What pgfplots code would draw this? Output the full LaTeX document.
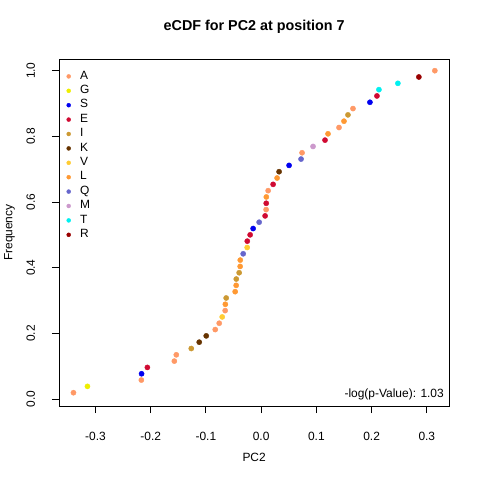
\documentclass[border=0pt]{standalone}
\usepackage{fontspec}
\setmainfont{Liberation Sans}
\usepackage{pgfplots}
\pgfplotsset{compat=1.18}
\definecolor{cA}{HTML}{FF9966}
\definecolor{cG}{HTML}{EEEE00}
\definecolor{cS}{HTML}{0000F0}
\definecolor{cE}{HTML}{D00A32}
\definecolor{cI}{HTML}{CC9933}
\definecolor{cK}{HTML}{663300}
\definecolor{cV}{HTML}{FFCC33}
\definecolor{cL}{HTML}{FF9933}
\definecolor{cQ}{HTML}{6666CC}
\definecolor{cM}{HTML}{CC99CC}
\definecolor{cT}{HTML}{00F0F0}
\definecolor{cR}{HTML}{990000}
\pgfplotsset{dot/.style={only marks, mark=*, mark size=2.6bp, color=#1, mark options={draw=none, fill=#1}}}
\begin{document}
\fontsize{12}{14.4}\selectfont
\begin{tikzpicture}
\useasboundingbox (0,0) rectangle (480bp,480bp);
\begin{axis}[
  at={(59bp,74bp)}, anchor=south west,
  scale only axis, width=390.3bp, height=346.7bp,
  xmin=-0.3660, xmax=0.3407, ymin=-0.0213, ymax=1.0347,
  axis line style={line width=1bp, black},
  every tick/.style={black, line width=1bp},
  tick align=outside, major tick length=7bp,
  tick pos=left,
  xtick={-0.3,-0.2,-0.1,0,0.1,0.2,0.3},
  xticklabels={-0.3,-0.2,-0.1,0.0,0.1,0.2,0.3},
  ytick={0,0.2,0.4,0.6,0.8,1},
  yticklabels={0.0,0.2,0.4,0.6,0.8,1.0},
  xticklabel style={anchor=base, inner sep=0pt},
  xticklabel shift=27bp,
  yticklabel style={rotate=90, anchor=base, inner sep=0pt},
  yticklabel shift=17bp,
  title={eCDF for PC2 at position 7},
  title style={at={([yshift=23.3bp]axis description cs:0.5,1)}, anchor=base, font=\fontsize{14.4}{17}\selectfont\bfseries},
  xlabel={PC2},
  xlabel style={at={([yshift=-55bp]axis description cs:0.5,0)}, anchor=base},
  ylabel={Frequency},
  ylabel style={at={([xshift=-46.5bp]axis description cs:0,0.5)}, anchor=base},
  legend style={at={([xshift=7.5bp,yshift=-9.7bp]axis description cs:0,1)}, anchor=north west,
    draw=none, fill=none, inner sep=0pt, row sep=0pt,
    nodes={inner sep=0pt, text height=10bp, text depth=4.4bp},
    /tikz/every odd column/.append style={column sep=9.5bp}},
  legend cell align=left,
  legend image code/.code={\draw[#1, mark size=2bp] plot coordinates {(0bp,0bp)};},
]
\addplot[dot=cA] coordinates {(-0.3398,0.0192) (-0.2169,0.0577) (-0.1572,0.1154) (-0.1536,0.1346) (-0.0831,0.2115) (-0.0759,0.2308) (-0.0651,0.2692) (0.0090,0.5769) (0.0127,0.6346) (0.0741,0.7500) (0.1410,0.8269) (0.1663,0.8846) (0.3145,1.0000)};
\addlegendentry{A}
\addplot[dot=cG] coordinates {(-0.3145,0.0385)};
\addlegendentry{G}
\addplot[dot=cS] coordinates {(-0.2165,0.0769) (-0.0145,0.5192) (0.0506,0.7115) (0.1970,0.9038)};
\addlegendentry{S}
\addplot[dot=cE] coordinates {(-0.2060,0.0962) (-0.0251,0.4808) (-0.0199,0.5000) (0.0072,0.5577) (0.0092,0.5962) (0.0217,0.6538) (0.1157,0.7885) (0.2097,0.9231)};
\addlegendentry{E}
\addplot[dot=cI] coordinates {(-0.1265,0.1538) (-0.0633,0.3077) (-0.0450,0.3654) (-0.0398,0.3846) (0.1572,0.8654)};
\addlegendentry{I}
\addplot[dot=cK] coordinates {(-0.1121,0.1731) (-0.0994,0.1923) (0.0325,0.6923)};
\addlegendentry{K}
\addplot[dot=cV] coordinates {(-0.0705,0.2500) (-0.0253,0.4615)};
\addlegendentry{V}
\addplot[dot=cL] coordinates {(-0.0648,0.2885) (-0.0470,0.3269) (-0.0452,0.3462) (-0.0380,0.4038) (-0.0378,0.4231) (0.0094,0.6154) (0.0289,0.6731) (0.1211,0.8077) (0.1500,0.8462)};
\addlegendentry{L}
\addplot[dot=cQ] coordinates {(-0.0325,0.4423) (-0.0036,0.5385) (0.0723,0.7308)};
\addlegendentry{Q}
\addplot[dot=cM] coordinates {(0.0940,0.7692)};
\addlegendentry{M}
\addplot[dot=cT] coordinates {(0.2133,0.9423) (0.2476,0.9615)};
\addlegendentry{T}
\addplot[dot=cR] coordinates {(0.2856,0.9808)};
\addlegendentry{R}
\node[anchor=base east, inner sep=0pt] at ([xshift=-5.3bp,yshift=9bp]rel axis cs:1,0) {-log(p-Value): 1.03};
\end{axis}
\end{tikzpicture}
\end{document}
